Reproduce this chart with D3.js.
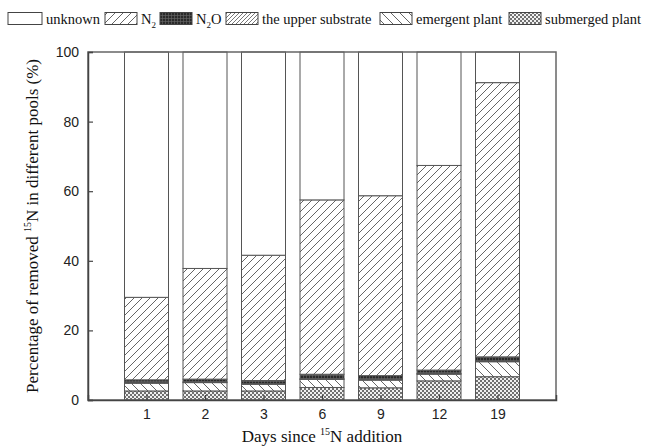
<!DOCTYPE html>
<html>
<head>
<meta charset="utf-8">
<script src="https://cdn.jsdelivr.net/npm/d3@7"></script>
<style>
  body { margin: 0; background: #fff; }
  svg { display: block; }
</style>
</head>
<body>
<script>
// data (percent of removed 15N)
var days = ["1", "2", "3", "6", "9", "12", "19"];
var submerged = [2.6, 2.6, 2.6, 3.6, 3.5, 5.5, 6.7];
var emergent  = [2.2, 2.4, 1.9, 2.3, 2.2, 1.9, 4.3];
var upperSub  = [0.2, 0.2, 0.2, 0.2, 0.2, 0.2, 0.2];
var n2o       = [0.8, 0.8, 0.9, 1.3, 1.1, 1.0, 1.2];
var n2        = [23.7, 31.8, 36.0, 50.1, 51.7, 58.8, 78.8];
var unknown   = [70.5, 62.2, 58.4, 42.5, 41.3, 32.6, 8.8];
var yTicks = [0, 20, 40, 60, 80, 100];

var width = 646, height = 446;
var plotL = 88, plotR = 556, plotT = 52, plotB = 400;
var barW = 44;

var svg = d3.select("body").append("svg")
    .attr("width", width)
    .attr("height", height);

// fill patterns
var defs = svg.append("defs");
function hatch(id, size, d, sw) {
    var p = defs.append("pattern").attr("id", id)
        .attr("patternUnits", "userSpaceOnUse")
        .attr("width", size).attr("height", size);
    p.append("rect").attr("width", size).attr("height", size).attr("fill", "#fff");
    p.append("path").attr("d", d).attr("stroke", "#555").attr("stroke-width", sw).attr("fill", "none");
}
hatch("pN2", 8, "M0,8L8,0M-2,2L2,-2M6,10L10,6", 0.9);
hatch("pUpper", 4, "M0,4L4,0M-1,1L1,-1M3,5L5,3", 0.8);
hatch("pEmer", 9, "M0,0L9,9M-2,7L2,11M7,-2L11,2", 0.9);
// submerged: fine checker
var pc = defs.append("pattern").attr("id", "pSub")
    .attr("patternUnits", "userSpaceOnUse").attr("width", 4).attr("height", 4);
pc.append("rect").attr("width", 4).attr("height", 4).attr("fill", "#f0f0f0");
pc.append("rect").attr("width", 2).attr("height", 2).attr("fill", "#707070");
pc.append("rect").attr("x", 2).attr("y", 2).attr("width", 2).attr("height", 2).attr("fill", "#707070");
// N2O: dark grid
var pd = defs.append("pattern").attr("id", "pN2O")
    .attr("patternUnits", "userSpaceOnUse").attr("width", 3).attr("height", 3);
pd.append("rect").attr("width", 3).attr("height", 3).attr("fill", "#2a2a2a");
pd.append("path").attr("d", "M0,0.5H3M0.5,0V3").attr("stroke", "#6a6a6a").attr("stroke-width", 0.6);

var series = [
    { name: "submerged", values: submerged, fill: "url(#pSub)" },
    { name: "emergent", values: emergent, fill: "url(#pEmer)" },
    { name: "upper", values: upperSub, fill: "url(#pUpper)" },
    { name: "n2o", values: n2o, fill: "url(#pN2O)" },
    { name: "n2", values: n2, fill: "url(#pN2)" },
    { name: "unknown", values: unknown, fill: "#fff" }
];

var table = days.map(function (d, i) {
    var row = { day: d };
    series.forEach(function (s) { row[s.name] = s.values[i]; });
    return row;
});
var stack = d3.stack().keys(series.map(function (s) { return s.name; }))(table);

var x = d3.scalePoint().domain(days).range([plotL, plotR]).padding(1);
var y = d3.scaleLinear().domain([0, 100]).range([plotB, plotT]);

// bars
stack.forEach(function (layer, k) {
    svg.append("g").selectAll("rect")
        .data(layer)
        .enter()
        .append("rect")
        .attr("x", function (d) { return x(d.data.day) - barW / 2; })
        .attr("y", function (d) { return y(d[1]); })
        .attr("width", barW)
        .attr("height", function (d) { return y(d[0]) - y(d[1]); })
        .attr("fill", series[k].fill)
        .attr("stroke", "#555")
        .attr("stroke-width", 1);
});

// frame
svg.append("rect")
    .attr("x", plotL).attr("y", plotT)
    .attr("width", plotR - plotL).attr("height", plotB - plotT)
    .attr("fill", "none").attr("stroke", "#666").attr("stroke-width", 1.5);

// axes
var yAxis = d3.axisLeft(y).tickValues(yTicks).tickSize(-5).tickPadding(9);
var gy = svg.append("g").attr("transform", "translate(" + plotL + ",0)").call(yAxis);
var xAxis = d3.axisBottom(x).tickSize(-5).tickPadding(9);
var gx = svg.append("g").attr("transform", "translate(0," + plotB + ")").call(xAxis);
[gy, gx].forEach(function (g) {
    g.select(".domain").attr("stroke", "#444").attr("stroke-width", 1.5);
    g.selectAll(".tick line").attr("stroke", "#444").attr("stroke-width", 1.2);
    g.selectAll(".tick text")
        .attr("font-family", "Liberation Sans, Arial, sans-serif")
        .attr("font-size", 14).attr("fill", "#222");
});

// axis titles
var serif = "Liberation Serif, Times New Roman, serif";
var xt = svg.append("text")
    .attr("x", (plotL + plotR) / 2).attr("y", 442)
    .attr("text-anchor", "middle")
    .attr("font-family", serif).attr("font-size", 17).attr("fill", "#111");
xt.append("tspan").text("Days since ");
xt.append("tspan").attr("font-size", 10).attr("dy", -7).text("15");
xt.append("tspan").attr("dy", 7).text("N addition");

var yt = svg.append("text")
    .attr("transform", "translate(38," + ((plotT + plotB) / 2) + ") rotate(-90)")
    .attr("text-anchor", "middle")
    .attr("font-family", serif).attr("font-size", 17).attr("fill", "#111");
yt.append("tspan").text("Percentage of removed ");
yt.append("tspan").attr("font-size", 10).attr("dy", -7).text("15");
yt.append("tspan").attr("dy", 7).text("N in different pools (%)");

// legend (box positions as in the original layout)
var legendItems = [
    { label: ["unknown"], fill: "#fff", bx: 8, w: 34 },
    { label: ["N", "2"], fill: "url(#pN2)", bx: 105, w: 32 },
    { label: ["N", "2", "O"], fill: "url(#pN2O)", bx: 160, w: 32 },
    { label: ["the upper substrate"], fill: "url(#pUpper)", bx: 226, w: 32 },
    { label: ["emergent plant"], fill: "url(#pEmer)", bx: 380, w: 32 },
    { label: ["submerged plant"], fill: "url(#pSub)", bx: 509, w: 32 }
];
legendItems.forEach(function (it) {
    svg.append("rect")
        .attr("x", it.bx).attr("y", 12.5).attr("width", it.w).attr("height", 12)
        .attr("fill", it.fill).attr("stroke", "#444").attr("stroke-width", 1);
    var t = svg.append("text")
        .attr("x", it.bx + it.w + 4).attr("y", 24)
        .attr("font-family", serif).attr("font-size", 14.5).attr("fill", "#111");
    it.label.forEach(function (s, j) {
        if (s === "2") {
            t.append("tspan").attr("font-size", 9).attr("dy", 4).text(s);
        } else if (j > 0) {
            t.append("tspan").attr("dy", -4).text(s);
        } else {
            t.append("tspan").text(s);
        }
    });
});
</script>
</body>
</html>
